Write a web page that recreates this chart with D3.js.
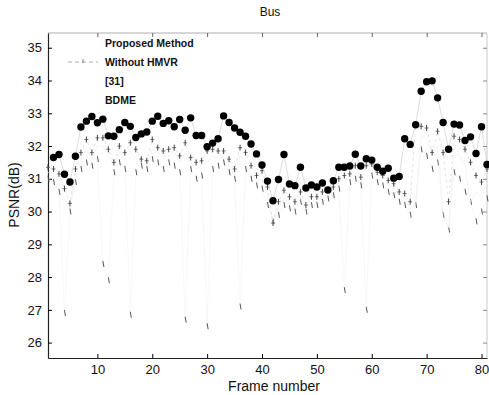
<!DOCTYPE html>
<html>
<head>
<meta charset="utf-8">
<script src="https://cdn.jsdelivr.net/npm/d3@7"></script>
<style>
  body { margin: 0; background: #fff; }
  svg { font-family: "Liberation Sans", Arial, sans-serif; }
</style>
</head>
<body>
<div id="chart"></div>
<script>
// frame numbers 1..81
let frames = d3.range(1, 82);

// Proposed Method, frames 2..81
let proposedFrames = d3.range(2, 82);
let proposed = [31.65, 31.74, 31.14, 30.90, 31.69, 32.58, 32.76, 32.90, 32.71, 32.82,
  32.31, 32.30, 32.50, 32.72, 32.60, 32.26, 32.37, 32.43, 32.76, 32.91,
  32.69, 32.77, 32.59, 32.81, 32.48, 32.86, 32.32, 32.32, 31.98, 32.09,
  32.22, 32.92, 32.72, 32.55, 32.42, 32.30, 32.06, 31.76, 31.42, 30.93,
  30.33, 30.98, 31.74, 30.84, 30.79, 31.35, 30.72, 30.81, 30.75, 30.87,
  30.66, 30.94, 31.35, 31.35, 31.39, 31.75, 31.39, 31.61, 31.57, 31.35,
  31.23, 31.32, 31.02, 31.07, 32.22, 32.05, 32.65, 33.67, 33.96, 33.99,
  33.47, 32.72, 31.90, 32.67, 32.64, 32.17, 32.28, 31.77, 32.59, 31.44];

let withoutHMVR = [31.35, 31.3, 31.15, 30.7, 30.25, 31.3, 31.8, 32.2, 31.8, 32.25,
  32.25, 31.9, 31.5, 32.0, 31.8, 32.1, 31.9, 31.6, 31.55, 32.2,
  31.95, 31.85, 31.9, 31.95, 31.7, 32.1, 31.65, 31.5, 31.55, 31.85,
  31.9, 31.85, 31.85, 31.6, 31.3, 31.95, 31.8, 31.4, 31.1, 31.25,
  30.75, 29.65, 30.3, 30.65, 30.45, 30.3, 30.6, 30.2, 30.45, 30.45,
  30.6, 30.65, 30.75, 31.0, 31.1, 31.15, 31.4, 31.05, 31.4, 31.45,
  31.2, 31.1, 30.95, 30.85, 30.6, 30.55, 30.3, 32.65, 32.6, 32.55,
  31.8, 32.45, 31.8, 30.3, 32.3, 32.2, 31.9, 31.5, 31.1, 30.9, 31.3];

let ref31 = [31.2, 31.1, 30.9, 30.4, 30.1, 31.1, 31.6, 31.9, 31.6, 32.0,
  32.0, 31.7, 31.4, 31.8, 31.6, 31.8, 31.6, 31.5, 31.4, 31.9,
  31.8, 31.7, 31.7, 31.8, 31.5, 31.8, 31.5, 31.3, 31.4, 31.5,
  31.7, 31.6, 31.7, 31.4, 31.1, 31.7, 31.5, 31.2, 30.9, 31.0,
  30.5, 29.6, 30.1, 30.4, 30.3, 30.1, 30.4, 30.1, 30.3, 30.3,
  30.5, 30.5, 30.6, 30.9, 31.0, 31.0, 31.2, 30.9, 31.2, 31.3,
  31.0, 30.9, 30.8, 30.7, 30.5, 30.4, 30.1, 30.25, 32.3, 32.2,
  31.8, 32.0, 30.0, 29.5, 31.8, 31.7, 31.4, 30.3, 30.6, 30.4, 30.9];

let bdme = [31.0, 30.9, 30.6, 26.9, 30.0, 30.9, 31.3, 31.5, 31.4, 31.6,
  28.4, 27.9, 31.2, 31.5, 31.3, 26.85, 31.2, 31.4, 31.3, 31.6,
  31.5, 31.3, 31.5, 31.4, 31.2, 26.7, 31.3, 31.0, 31.1, 26.5,
  31.3, 31.4, 31.5, 31.2, 31.0, 27.1, 31.3, 31.0, 30.8, 30.7,
  30.2, 29.7, 29.9, 30.2, 30.1, 30.0, 30.3, 30.0, 30.2, 30.2,
  30.3, 30.4, 30.5, 30.7, 27.6, 30.9, 31.0, 30.8, 27.0, 31.1,
  30.9, 30.8, 30.6, 30.5, 30.3, 30.2, 29.9, 30.2, 31.9, 31.7,
  31.3, 31.5, 29.9, 29.45, 31.2, 31.0, 30.6, 30.3, 29.7, 30.0, 30.4];

let xTicks = [10, 20, 30, 40, 50, 60, 70, 80];
let yTicks = [26, 27, 28, 29, 30, 31, 32, 33, 34, 35];
let legendLabels = ['Proposed Method', 'Without HMVR', '[31]', 'BDME'];

let width = 489;
let height = 395;
let plotLeft = 48, plotRight = 487, plotTop = 33, plotBottom = 358;

let svg = d3.select('#chart')
  .append('svg')
  .attr('width', width)
  .attr('height', height);

let x = d3.scaleLinear().domain([1, 81]).range([plotLeft, plotRight]);
let y = d3.scaleLinear().domain([25.53, 35.45]).range([plotBottom, plotTop]);

// box, top and right edges came out faint on the scan
svg.append('line').attr('x1', plotLeft).attr('x2', plotRight).attr('y1', plotTop).attr('y2', plotTop)
  .attr('stroke', '#999').attr('stroke-width', 0.8);
svg.append('line').attr('x1', plotRight).attr('x2', plotRight).attr('y1', plotTop).attr('y2', plotBottom)
  .attr('stroke', '#bbb').attr('stroke-width', 0.8);

// axes with inward ticks (matlab style)
svg.append('g')
  .attr('transform', `translate(0, ${plotBottom})`)
  .call(d3.axisBottom(x).tickValues(xTicks).tickSize(-4).tickPadding(7).tickSizeOuter(0))
  .call(g => g.select('.domain').attr('stroke', '#222').attr('stroke-width', 1.2))
  .call(g => g.selectAll('text').attr('font-size', 13).attr('fill', '#111'));

svg.append('g')
  .attr('transform', `translate(${plotLeft}, 0)`)
  .call(d3.axisLeft(y).tickValues(yTicks).tickSize(-4).tickPadding(6).tickSizeOuter(0))
  .call(g => g.select('.domain').attr('stroke', '#222').attr('stroke-width', 1.2))
  .call(g => g.selectAll('text').attr('font-size', 13).attr('fill', '#111'));

// mirrored ticks on top / right
svg.append('g')
  .attr('transform', `translate(0, ${plotTop})`)
  .call(d3.axisTop(x).tickValues(xTicks).tickSize(-4).tickFormat('').tickSizeOuter(0))
  .call(g => g.select('.domain').remove())
  .call(g => g.selectAll('line').attr('stroke', '#666'));

svg.append('g')
  .attr('transform', `translate(${plotRight}, 0)`)
  .call(d3.axisRight(y).tickValues(yTicks).tickSize(-4).tickFormat('').tickSizeOuter(0))
  .call(g => g.select('.domain').remove())
  .call(g => g.selectAll('line').attr('stroke', '#888'));

let line = d3.line()
  .x(d => x(d[0]))
  .y(d => y(d[1]));

// BDME - nearly lost on the scan, only marks left
svg.append('path')
  .datum(frames.map((f, i) => [f, bdme[i]]))
  .attr('d', line)
  .attr('fill', 'none')
  .attr('stroke', '#f3f3f3')
  .attr('stroke-width', 0.6);

svg.selectAll('.bdme-mark')
  .data(frames.map((f, i) => [f, bdme[i]]))
  .enter()
  .append('line')
  .classed('bdme-mark', true)
  .attr('x1', d => x(d[0]))
  .attr('x2', d => x(d[0]) + 1)
  .attr('y1', d => y(d[1]) - 3)
  .attr('y2', d => y(d[1]) + 3)
  .attr('stroke', '#444')
  .attr('stroke-width', 0.9);

// [31]
svg.append('path')
  .datum(frames.map((f, i) => [f, ref31[i]]))
  .attr('d', line)
  .attr('fill', 'none')
  .attr('stroke', '#ececec')
  .attr('stroke-width', 0.6);

// Without HMVR - dashed with + markers
svg.append('path')
  .datum(frames.map((f, i) => [f, withoutHMVR[i]]))
  .attr('d', line)
  .attr('fill', 'none')
  .attr('stroke', '#d0d0d0')
  .attr('stroke-width', 0.6)
  .attr('stroke-dasharray', '3,3');

let plus = svg.selectAll('.plus')
  .data(frames.map((f, i) => [f, withoutHMVR[i]]))
  .enter()
  .append('g')
  .classed('plus', true)
  .attr('transform', d => `translate(${x(d[0])}, ${y(d[1])})`);

plus.append('line').attr('x1', -2).attr('x2', 2).attr('y1', 0).attr('y2', 0)
  .attr('stroke', '#555').attr('stroke-width', 0.8);
plus.append('line').attr('x1', 0).attr('x2', 0).attr('y1', -3).attr('y2', 3)
  .attr('stroke', '#333').attr('stroke-width', 0.9);

// Proposed Method
svg.append('path')
  .datum(proposedFrames.map((f, i) => [f, proposed[i]]))
  .attr('d', line)
  .attr('fill', 'none')
  .attr('stroke', '#c4c4c4')
  .attr('stroke-width', 0.6);

svg.selectAll('.dot')
  .data(proposedFrames.map((f, i) => [f, proposed[i]]))
  .enter()
  .append('circle')
  .classed('dot', true)
  .attr('cx', d => x(d[0]))
  .attr('cy', d => y(d[1]))
  .attr('r', 3.7)
  .attr('fill', '#000');

// legend (no box)
let legend = svg.append('g');

legendLabels.forEach((label, i) => {
  let ly = 43 + i * 19;
  legend.append('text')
    .attr('x', 105)
    .attr('y', ly + 4)
    .attr('font-size', 10.5)
    .attr('font-weight', 'bold')
    .attr('fill', '#111')
    .text(label);
});

legend.append('line')
  .attr('x1', 68).attr('x2', 98).attr('y1', 62).attr('y2', 62)
  .attr('stroke', '#999').attr('stroke-width', 0.8).attr('stroke-dasharray', '4,3');
legend.append('line')
  .attr('x1', 83).attr('x2', 83).attr('y1', 59).attr('y2', 63)
  .attr('stroke', '#666').attr('stroke-width', 0.8);

// titles
svg.append('text')
  .attr('x', 270)
  .attr('y', 16)
  .attr('text-anchor', 'middle')
  .attr('font-size', 12)
  .attr('fill', '#111')
  .text('Bus');

svg.append('text')
  .attr('x', 274)
  .attr('y', 391)
  .attr('text-anchor', 'middle')
  .attr('font-size', 14)
  .attr('fill', '#111')
  .text('Frame number');

svg.append('text')
  .attr('transform', 'translate(19, 195) rotate(-90)')
  .attr('text-anchor', 'middle')
  .attr('font-size', 14)
  .attr('fill', '#111')
  .text('PSNR(dB)');
</script>
</body>
</html>
